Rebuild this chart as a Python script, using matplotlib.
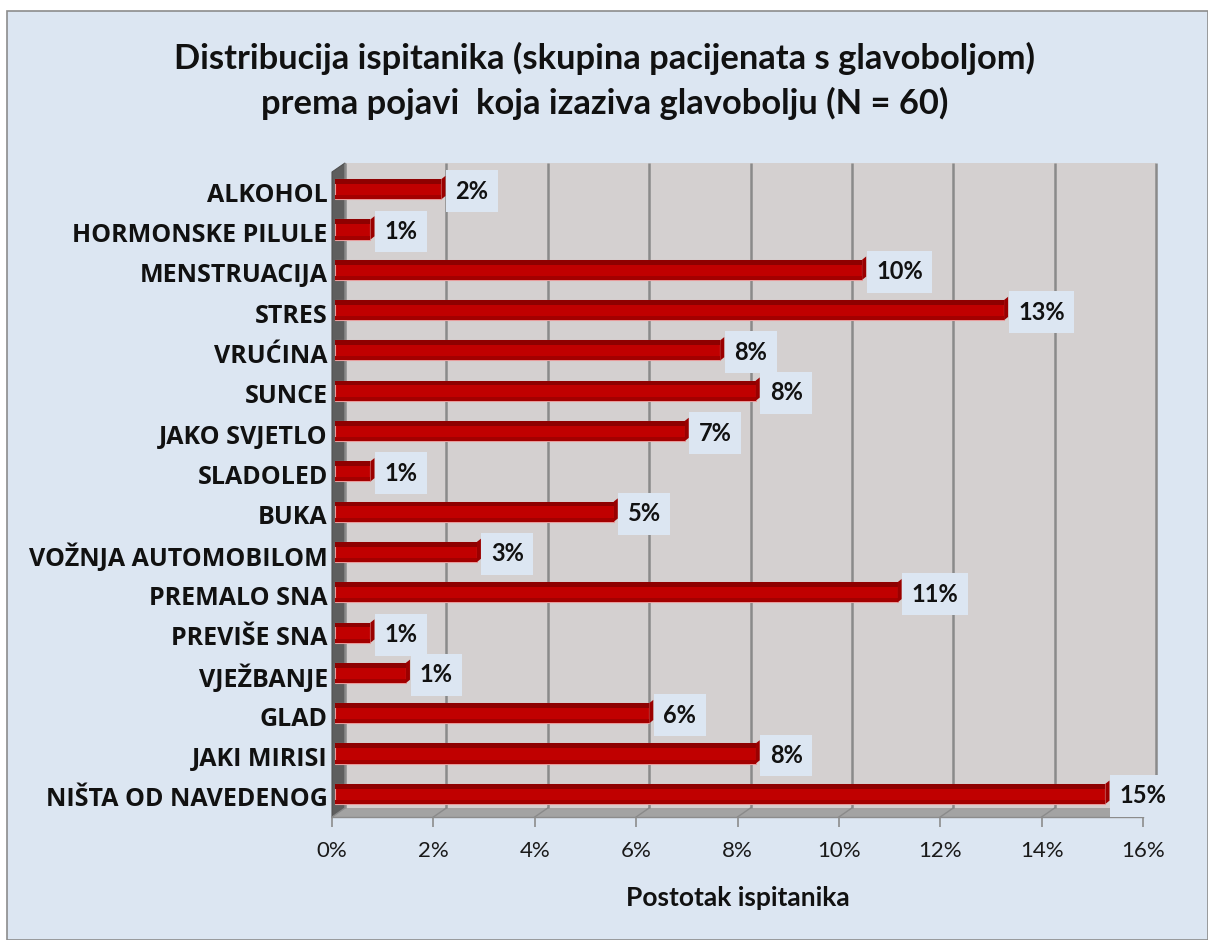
import matplotlib
matplotlib.use("Agg")
import matplotlib.pyplot as plt
from matplotlib.patches import Rectangle, Polygon
from matplotlib import transforms
import numpy as np

plt.rcParams['font.family'] = ['Lato', 'DejaVu Sans']

categories = ["ALKOHOL", "HORMONSKE PILULE", "MENSTRUACIJA", "STRES", "VRUĆINA",
              "SUNCE", "JAKO SVJETLO", "SLADOLED", "BUKA", "VOŽNJA AUTOMOBILOM",
              "PREMALO SNA", "PREVIŠE SNA", "VJEŽBANJE", "GLAD", "JAKI MIRISI",
              "NIŠTA OD NAVEDENOG"]
values = [2.1, 0.7, 10.4, 13.2, 7.6, 8.3, 6.9, 0.7, 5.5, 2.8, 11.1, 0.7, 1.4, 6.2, 8.3, 15.2]
value_labels = ["2%", "1%", "10%", "13%", "8%", "8%", "7%", "1%", "5%", "3%",
                "11%", "1%", "1%", "6%", "8%", "15%"]
xticks = [0, 2, 4, 6, 8, 10, 12, 14, 16]
xtick_labels = ["0%", "2%", "4%", "6%", "8%", "10%", "12%", "14%", "16%"]
title = "Distribucija ispitanika (skupina pacijenata s glavoboljom)\nprema pojavi  koja izaziva glavobolju (N = 60)"
xlabel = "Postotak ispitanika"

W, H = 1208, 940
fig = plt.figure(figsize=(W / 100, H / 100), dpi=100)
fig.patch.set_facecolor("white")
BG = "#DCE6F2"
fig.patches.append(Rectangle((7 / W, 0), (W - 7) / W, (H - 11) / H, transform=fig.transFigure,
                             facecolor=BG, edgecolor="#8C8C8C", linewidth=1.2, zorder=-5))

# front plane of the 3D plot area
x0, x1 = 332, 1143
ytop, ybot = 172, 817
ax = fig.add_axes([x0 / W, (H - ybot) / H, (x1 - x0) / W, (ybot - ytop) / H])
ax.set_zorder(1)
ax.set_xlim(0, 16)
ax.set_ylim(len(categories) - 0.5, -0.5)
ax.patch.set_visible(False)
for s in ax.spines.values():
    s.set_visible(False)

DX, DY = 13, 9  # depth offset in pixels
back = transforms.offset_copy(ax.transData, fig=fig, x=DX, y=DY, units='dots')
mid = transforms.offset_copy(ax.transData, fig=fig, x=3, y=3, units='dots')

ymin, ymax = len(categories) - 0.5, -0.5
ax.add_patch(Rectangle((0, ymax), 16, ymin - ymax, transform=back, facecolor="#D4D0D0",
                       edgecolor="none", zorder=0, clip_on=False))
def disp(tr, x, y):
    return tr.transform((x, y))
fb0 = disp(ax.transData, 0, ymin); ft0 = disp(ax.transData, 0, ymax)
bb0 = disp(back, 0, ymin); bt0 = disp(back, 0, ymax)
fb1 = disp(ax.transData, 16, ymin); bb1 = disp(back, 16, ymin)
ident = transforms.IdentityTransform()
ax.add_patch(Polygon([fb0, ft0, bt0, bb0], closed=True, transform=ident,
                     facecolor="#5E5E5E", edgecolor="#505050", lw=0.8, zorder=1, clip_on=False))
ax.add_patch(Polygon([fb0, fb1, bb1, bb0], closed=True, transform=ident,
                     facecolor="#A3A3A3", edgecolor="none", zorder=1, clip_on=False))

for t in xticks:
    ax.plot([t, t], [ymin, ymax], transform=back, color="#8A8A8A", lw=1.8, zorder=1,
            clip_on=False, solid_capstyle="butt")
    p1 = disp(ax.transData, t, ymin); p2 = disp(back, t, ymin)
    ax.plot([p1[0], p2[0]], [p1[1], p2[1]], transform=ident, color="#8A8A8A", lw=1.0,
            zorder=1, clip_on=False)
ax.plot([0, 16], [ymin, ymin], color="#8C8C8C", lw=1.0, zorder=2, clip_on=False)

ax.set_xticks(xticks)
ax.set_xticklabels(xtick_labels, fontsize=16, color="#1A1A1A")
ax.tick_params(axis='x', length=7, color="#8C8C8C", width=1.2, pad=10)
ax.set_yticks(range(len(categories)))
ax.set_yticklabels(categories, fontsize=18, fontweight="bold", color="#111111",
                   family=["Open Sans", "DejaVu Sans"])
ax.tick_params(axis='y', length=0, pad=3)
ax.set_xlabel(xlabel, fontsize=19, fontweight="bold", labelpad=18, color="#111111")

ypos = np.arange(len(categories))
h = 0.5
ax.barh(ypos, values, height=h, color="#C00000", edgecolor="#E89A9A", linewidth=0.8,
        transform=mid, zorder=3)
ax.barh(ypos - h / 2 + 0.06, values, height=0.12, color="#8E0000", edgecolor="none",
        transform=mid, zorder=4)
ax.barh(ypos + h / 2 - 0.05, values, height=0.1, color="#A30000", edgecolor="none",
        transform=mid, zorder=4)
capw = 4 / 50.7
for y, v in zip(ypos, values):
    ax.add_patch(Polygon([(v, y + h / 2), (v, y - h / 2), (v + capw, y - h / 2 - 0.08),
                          (v + capw, y + h / 2 - 0.08)], closed=True, transform=mid,
                         facecolor="#9A0000", edgecolor="none", zorder=5))

for y, v, lab in zip(ypos, values, value_labels):
    ax.annotate(lab, (v, y), xycoords=mid, xytext=(14, -2), textcoords="offset pixels",
                ha="left", va="center", fontsize=17, fontweight="bold", color="#111111",
                bbox=dict(boxstyle="square,pad=0.4", facecolor=BG, edgecolor="none"),
                zorder=6, annotation_clip=False)

fig.text(605 / W, 1 - 81 / H, title, ha="center", va="center", fontsize=24.8,
         fontweight="bold", color="#111111", linespacing=1.42)

fig.savefig("out.png", dpi=100, facecolor=fig.get_facecolor())
